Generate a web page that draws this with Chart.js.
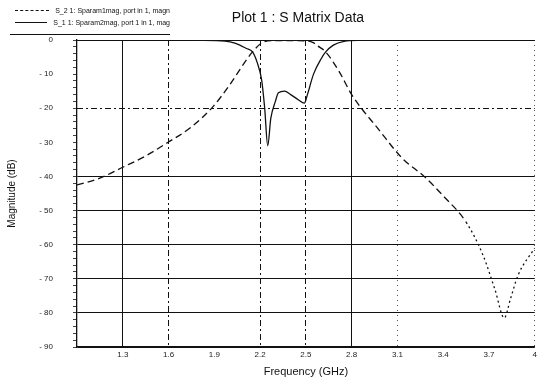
<!DOCTYPE html>
<html>
<head>
<meta charset="utf-8">
<script src="https://cdn.jsdelivr.net/npm/chart.js@4.4.0/dist/chart.umd.min.js"></script>
<style>
  html, body { margin: 0; padding: 0; background: #fff; }
  #wrap { position: relative; width: 540px; height: 385px; font-family: 'Liberation Sans Narrow', 'Liberation Sans', sans-serif; color: #111; }
  #plot-title { position: absolute; left: 298px; top: 9px; transform: translateX(-50%); font-size: 14px; white-space: nowrap; }
  #legend { position: absolute; left: 10px; top: 4px; width: 160px; border-bottom: 1px solid #111; padding-bottom: 6px; font-size: 7px; }
  #legend .row { display: flex; align-items: center; height: 12px; white-space: nowrap; }
  #legend .swatch { width: 36px; margin: 0 6px 0 5px; border-top: 1px solid #111; }
  #legend .swatch.dash { border-top-style: dashed; }
</style>
</head>
<body>
<div id="wrap">
  <canvas id="chart" width="540" height="385"></canvas>
  <div id="plot-title">Plot 1 : S Matrix Data</div>
  <div id="legend"></div>
</div>
<script>
// series (frequency in GHz, magnitude in dB)
const seriesLabels = ['S_2 1: Sparam1mag, port in 1, magn', 'S_1 1: Sparam2mag, port 1 in 1, mag'];

const s21Freq = [1.00, 1.15, 1.30, 1.45, 1.60, 1.75, 1.89, 2.00, 2.10, 2.15, 2.21, 2.29, 2.45, 2.54, 2.58, 2.63, 2.72, 2.80, 2.98, 3.13, 3.28, 3.40, 3.55, 3.66, 3.74, 3.80, 3.84, 3.89, 4.00];
const s21Mag  = [-42.5, -40.5, -37.3, -34.0, -29.9, -25.5, -19.6, -13.2, -6.5, -3.5, -0.9, -0.2, -0.2, -0.6, -1.8, -3.5, -9.4, -16.0, -26.4, -34.6, -40.2, -45.7, -53.4, -63.0, -73.3, -81.5, -76.0, -69.0, -61.0];

const s11Freq = [1.00, 1.50, 1.80, 1.97, 2.04, 2.11, 2.15, 2.18, 2.21, 2.23, 2.25, 2.27, 2.30, 2.32, 2.36, 2.40, 2.45, 2.49, 2.51, 2.55, 2.60, 2.63, 2.68, 2.75, 2.85, 3.50, 4.00];
const s11Mag  = [0, 0, -0.1, -0.3, -1.0, -2.5, -3.5, -6.5, -11.7, -20.0, -31.0, -23.0, -18.0, -15.5, -15.0, -16.0, -17.5, -18.5, -16.0, -10.0, -5.5, -3.5, -1.5, -0.4, -0.1, 0, 0];

const xTickValues = [1.0, 1.3, 1.6, 1.9, 2.2, 2.5, 2.8, 3.1, 3.4, 3.7, 4.0];
const xTickLabels = ['', '1.3', '1.6', '1.9', '2.2', '2.5', '2.8', '3.1', '3.4', '3.7', '4'];
const yTickValues = [0, -10, -20, -30, -40, -50, -60, -70, -80, -90];
const yTickLabels = ['0', '- 10', '- 20', '- 30', '- 40', '- 50', '- 60', '- 70', '- 80', '- 90'];

// which grid lines show up in the scan, and how
const xSolid = [1.3, 2.8];
const xDashDot = [1.6, 2.2, 2.5];
const xDotted = [3.1, 4.0];
const ySolid = [0, -40, -50, -60, -70, -80, -90];
const yDashDot = [-20];

const INK = '#111';
const NONE = 'rgba(0,0,0,0)';
const tickFont = { family: "'Liberation Sans Narrow', 'Liberation Sans', sans-serif", size: 8 };

function toPoints(xs, ys) {
  return xs.map((x, i) => ({ x: x, y: ys[i] }));
}

function near(list, v) {
  return list.some(t => Math.abs(t - v) < 1e-6);
}

function fixedXTicks(scale) {
  scale.ticks = xTickValues.map(v => ({ value: v }));
}

// little html legend in the top left corner
const legend = document.getElementById('legend');
seriesLabels.forEach((label, i) => {
  const row = document.createElement('div');
  row.className = 'row';
  row.innerHTML = '<span class="swatch' + (i === 0 ? ' dash' : '') + '"></span><span>' + label + '</span>';
  legend.appendChild(row);
});

new Chart(document.getElementById('chart'), {
  type: 'line',
  data: {
    datasets: [
      {
        label: seriesLabels[0],
        data: toPoints(s21Freq, s21Mag),
        xAxisID: 'x', yAxisID: 'y',
        borderColor: INK,
        borderWidth: 1.3,
        pointRadius: 0,
        cubicInterpolationMode: 'monotone',
        segment: {
          borderDash: ctx => ctx.p0.parsed.x >= 3.55 ? [2, 3] : [7, 4]
        }
      },
      {
        label: seriesLabels[1],
        data: toPoints(s11Freq, s11Mag),
        xAxisID: 'x', yAxisID: 'y',
        borderColor: INK,
        borderWidth: 1.3,
        pointRadius: 0,
        cubicInterpolationMode: 'monotone'
      }
    ]
  },
  options: {
    responsive: false,
    animation: false,
    devicePixelRatio: 1,
    layout: { padding: { top: 40, right: 3, left: 0, bottom: 0 } },
    plugins: {
      legend: { display: false },
      title: { display: false },
      tooltip: { enabled: false }
    },
    scales: {
      x: {
        type: 'linear',
        position: 'bottom',
        min: 1, max: 4,
        afterBuildTicks: fixedXTicks,
        afterFit: s => { s.height = 38; },
        ticks: {
          autoSkip: false,
          maxRotation: 0,
          padding: 3,
          color: '#222',
          font: tickFont,
          callback: v => { const i = xTickValues.findIndex(t => Math.abs(t - v) < 1e-6); return i < 0 ? '' : xTickLabels[i]; }
        },
        grid: {
          color: ctx => ctx.tick && near(xSolid, ctx.tick.value) ? INK : NONE,
          lineWidth: 1,
          drawTicks: false
        },
        border: { display: true, color: INK, width: 1.3 },
        title: {
          display: true,
          text: 'Frequency (GHz)',
          color: INK,
          font: { family: "'Liberation Sans Narrow', 'Liberation Sans', sans-serif", size: 11 },
          padding: { top: 0, bottom: 6 }
        }
      },
      xd: {
        type: 'linear',
        position: 'bottom',
        min: 1, max: 4,
        afterBuildTicks: fixedXTicks,
        afterFit: s => { s.height = 0; },
        ticks: { display: false },
        grid: {
          color: ctx => ctx.tick && near(xDashDot, ctx.tick.value) ? INK : NONE,
          drawTicks: false
        },
        border: { display: false, dash: [6, 3, 2, 3] }
      },
      xp: {
        type: 'linear',
        position: 'bottom',
        min: 1, max: 4,
        afterBuildTicks: fixedXTicks,
        afterFit: s => { s.height = 0; },
        ticks: { display: false },
        grid: {
          color: ctx => ctx.tick && near(xDotted, ctx.tick.value) ? '#555' : NONE,
          drawTicks: false
        },
        border: { display: false, dash: [1, 4] }
      },
      y: {
        type: 'linear',
        position: 'left',
        min: -90, max: 0,
        afterFit: s => { s.width = 77; },
        ticks: {
          stepSize: 2,
          maxTicksLimit: 100,
          autoSkip: false,
          padding: 20,
          color: '#222',
          font: tickFont,
          callback: v => { const i = yTickValues.indexOf(v); return i < 0 ? '' : yTickLabels[i]; }
        },
        grid: {
          color: ctx => ctx.tick && near(ySolid, ctx.tick.value) ? INK : NONE,
          lineWidth: 1,
          drawTicks: true,
          tickLength: 4,
          tickColor: INK,
          tickWidth: 0.8
        },
        border: { display: true, color: INK, width: 1.3 },
        title: {
          display: true,
          text: 'Magnitude (dB)',
          color: INK,
          font: { family: "'Liberation Sans Narrow', 'Liberation Sans', sans-serif", size: 10 },
          padding: { top: 6, bottom: 0 }
        }
      },
      yd: {
        type: 'linear',
        position: 'left',
        min: -90, max: 0,
        afterFit: s => { s.width = 0; },
        ticks: { display: false, stepSize: 10 },
        grid: {
          color: ctx => ctx.tick && near(yDashDot, ctx.tick.value) ? INK : NONE,
          drawTicks: false
        },
        border: { display: false, dash: [6, 3, 2, 3] }
      }
    }
  }
});
</script>
</body>
</html>
